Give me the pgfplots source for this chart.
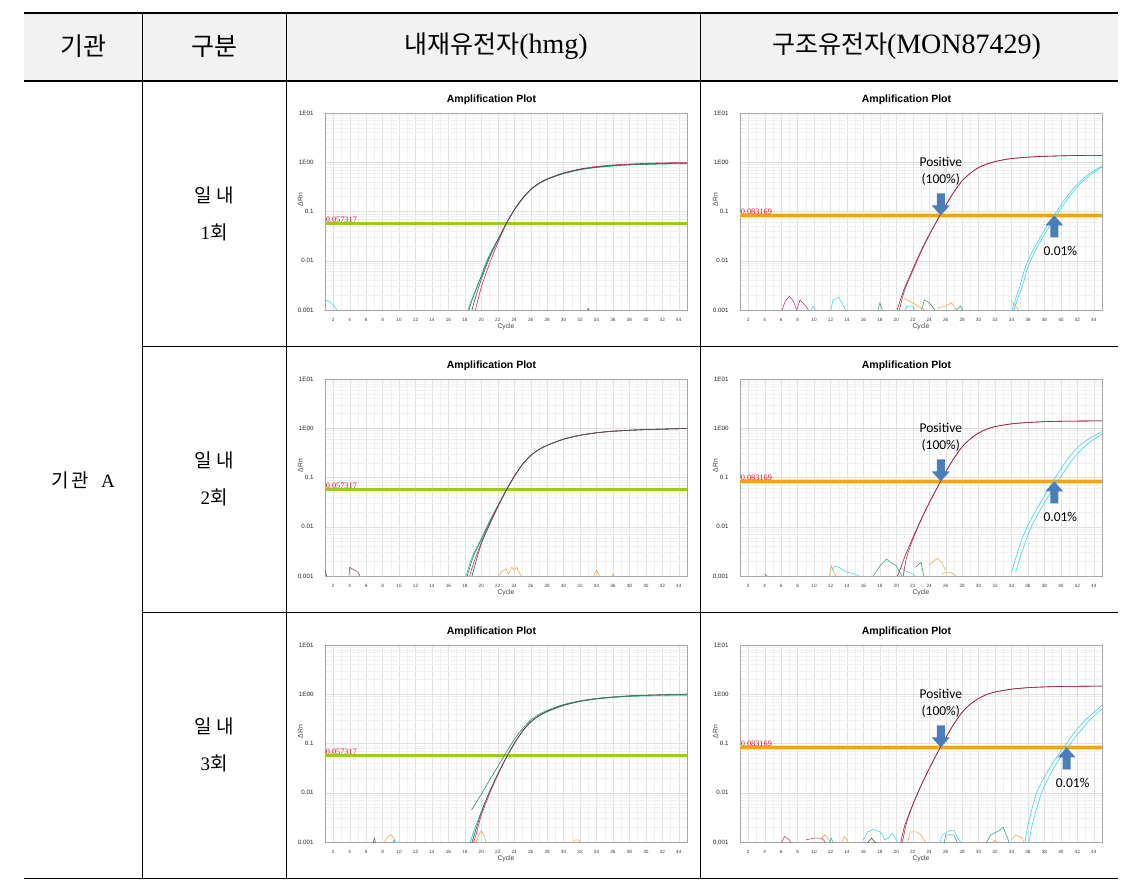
\documentclass[border=0pt]{standalone}
\usepackage{fontspec}
\setmainfont{Liberation Serif}
\newfontfamily\kr{Noto Sans CJK KR}
\newfontfamily\ar{Liberation Sans}
\newfontfamily\calib{Carlito}
\usepackage{pgfplots}
\pgfplotsset{compat=1.18}
\definecolor{tealc}{HTML}{17C3B2}
\definecolor{greenc}{HTML}{2E8B57}
\definecolor{greyc}{HTML}{4D4D4D}
\definecolor{redc}{HTML}{DC2A5A}
\definecolor{mred}{HTML}{9A2438}
\definecolor{mred2}{HTML}{B8344F}
\definecolor{cyanc}{HTML}{3FD3EC}
\definecolor{orangec}{HTML}{F4A24A}
\definecolor{purc}{HTML}{A0407A}
\definecolor{nred}{HTML}{C8385A}
\definecolor{ngreen}{HTML}{3A9A6A}
\definecolor{thrg}{HTML}{9CCB1E}
\definecolor{thro}{HTML}{F7A21B}
\definecolor{thry}{HTML}{FFE680}
\definecolor{arrowb}{HTML}{4A7EBB}
\definecolor{thrtext}{HTML}{E8102A}
\definecolor{hdrbg}{HTML}{F2F2F2}
\pgfplotsset{
  scale only axis, width=362pt, height=197pt,
  xmin=1, xmax=45, ymin=0.001, ymax=10,
  xtick={2,4,...,44}, minor xtick={1,3,...,45},
  ytick={0.001,0.01,0.1,1,10}, yticklabels={0.001,0.01,0.1,1E00,1E01},
  minor ytick={0.002,0.003,0.004,0.005,0.006,0.007,0.008,0.009,0.02,0.03,0.04,0.05,0.06,0.07,0.08,0.09,0.2,0.3,0.4,0.5,0.6,0.7,0.8,0.9,2,3,4,5,6,7,8,9},
  grid=both, major grid style={draw=black!12, line width=0.35pt}, minor grid style={draw=black!6, line width=0.35pt},
  axis line style={draw=black!35, line width=0.4pt},
  major tick length=0pt, minor tick length=0pt, tick pos=left,
  /pgf/number format/assume math mode=true,
  xticklabel style={font=\ar\fontsize{4.7}{5}\selectfont, text=black!75, yshift=-5pt},
  yticklabel style={font=\ar\fontsize{6.2}{7}\selectfont, text=black!85, xshift=-8pt},
  xlabel={Cycle}, ylabel={ΔRn},
  xlabel style={font=\ar\fontsize{6.8}{7}\selectfont, text=black!75, at={(axis description cs:0.5,-0.083)}, anchor=center},
  ylabel style={font=\ar\fontsize{6.8}{7}\selectfont, text=black!75, at={(axis description cs:-0.068,0.56)}, anchor=center},
  title={Amplification Plot},
  title style={font=\ar\bfseries\fontsize{10.5}{12}\selectfont, at={(axis description cs:0.46,1)}, anchor=base, yshift=4.5pt},
  every axis plot/.append style={line width=0.6pt, no markers, smooth, tension=0.45},
}
\tikzset{
  noisy/.style={line width=0.55pt, sharp plot},
  thrL/.style={thrg, line width=2.4pt, sharp plot},
  thrR/.style={thro, line width=2.4pt, sharp plot},
  thrY/.style={thry, line width=4.5pt, sharp plot},
}
\newcommand{\thrlabel}[1]{\node[anchor=south west, inner sep=0.6pt, text=thrtext, font=\fontsize{8.3}{9}\selectfont] at (axis cs:1,#1) {#1};}
\newcommand{\posarr}[1]{\fill[arrowb] (axis cs:#1,0.083169) -- ++(-9pt,10pt) -- ++(5pt,0pt) -- ++(0pt,12pt) -- ++(8pt,0pt) -- ++(0pt,-12pt) -- ++(5pt,0pt) -- cycle;
  \node[font=\calib\fontsize{13.5}{16.5}\selectfont, align=center] at (axis cs:#1,0.083169) [yshift=44pt] {Positive\\(100\%)};}
\newcommand{\lowarr}[1]{\fill[arrowb] (axis cs:#1,0.083169) -- ++(-9pt,-10pt) -- ++(5pt,0pt) -- ++(0pt,-12pt) -- ++(8pt,0pt) -- ++(0pt,12pt) -- ++(5pt,0pt) -- cycle;
  \node[font=\calib\fontsize{13.5}{16.5}\selectfont] at (axis cs:#1,0.083169) [xshift=6pt, yshift=-36pt] {0.01\%};}
\begin{document}
\begin{tikzpicture}[x=1pt,y=1pt]
\useasboundingbox (0,0) rectangle (1142,886);
\fill[white] (0,0) rectangle (1142,886);
\fill[hdrbg] (24,805) rectangle (1118,873);
% ---------- header text
\node[font=\kr\fontsize{25}{28}\selectfont] at (83,839.5) {기관};
\node[font=\kr\fontsize{25}{28}\selectfont] at (214,839.5) {구분};
\node[font=\fontsize{28}{30}\selectfont] at (496,839.5) {{\kr\fontsize{25}{28}\selectfont 내재유전자}(hmg)};
\node[font=\fontsize{28}{30}\selectfont] at (906.5,839.5) {{\kr\fontsize{25}{28}\selectfont 구조유전자}(MON87429)};
% ---------- row labels
\node[font=\fontsize{19}{37}\selectfont, align=center] at (214,672.5) {{\kr 일 내}\\1{\kr 회}};
\node[font=\fontsize{19}{37}\selectfont, align=center] at (214,407) {{\kr 일 내}\\2{\kr 회}};
\node[font=\fontsize{19}{37}\selectfont, align=center] at (214,141) {{\kr 일 내}\\3{\kr 회}};
\node[font=\fontsize{19}{22}\selectfont] at (83,406) {{\kr 기\hspace{3pt}관}\hspace{12pt}A};

% ================= Row 1 left
\begin{axis}[ymode=log, anchor=south west, at={(325pt,576pt)}]
\addplot[thrL] coordinates {(1,0.057317) (45,0.057317)};
\addplot[cyanc] coordinates {(1,0.0016) (1.5,0.0015) (2,0.00125) (2.5,0.00098)};
\addplot[tealc] coordinates {(18.3,0.0009) (18.6,0.0013) (19,0.0019) (19.5,0.0031) (20,0.005) (20.6,0.0095) (21,0.013) (22,0.0265) (23,0.055) (24,0.105) (25,0.18) (26,0.275) (27,0.365) (28,0.445) (29,0.52) (30,0.585) (32,0.7) (34,0.78) (36,0.84) (38,0.88) (40,0.9) (42,0.92) (44,0.93) (45,0.93)};
\addplot[greenc] coordinates {(18.4,0.0009) (19,0.0018) (20,0.0048) (21,0.0127) (22,0.027) (23,0.056) (24,0.107) (25,0.182) (26,0.278) (27,0.37) (28,0.45) (30,0.59) (32,0.71) (34,0.79) (36,0.85) (38,0.89) (40,0.91) (42,0.93) (44,0.94) (45,0.94)};
\addplot[redc] coordinates {(19.2,0.0009) (19.5,0.0014) (20,0.0029) (21,0.0088) (22,0.023) (23,0.054) (24,0.108) (25,0.186) (26,0.282) (27,0.375) (28,0.46) (30,0.61) (32,0.73) (34,0.82) (36,0.88) (38,0.92) (40,0.95) (42,0.97) (44,0.98) (45,0.98)};
\addplot[greyc] coordinates {(18.8,0.0009) (19.2,0.0016) (20,0.0042) (21,0.0115) (22,0.026) (23,0.056) (24,0.108) (25,0.185) (26,0.28) (27,0.372) (28,0.455) (30,0.6) (32,0.72) (34,0.8) (36,0.86) (38,0.9) (40,0.93) (42,0.95) (44,0.96) (45,0.96)};
\addplot[greyc, noisy] coordinates {(32.8,0.00095) (33,0.00106) (33.2,0.00095)};
\thrlabel{0.057317}
\end{axis}

% ================= Row 1 right
\begin{axis}[ymode=log, anchor=south west, at={(740pt,576pt)}]
\addplot[thrY] coordinates {(1,0.083169) (45,0.083169)};
\addplot[thrR] coordinates {(1,0.083169) (45,0.083169)};
\addplot[nred, noisy] coordinates {(6,0.0009) (6.5,0.0015) (7,0.0019) (7.5,0.0015) (8,0.0009)};
\addplot[nred, noisy] coordinates {(7.8,0.0009) (8.3,0.0016) (9,0.0012) (9.5,0.0009)};
\addplot[cyanc, noisy] coordinates {(9.5,0.0009) (9.9,0.0012) (10.3,0.0009)};
\addplot[cyanc, noisy] coordinates {(12,0.0009) (12.3,0.0016) (13,0.0018) (13.5,0.0013) (14,0.0009)};
\addplot[ngreen, noisy] coordinates {(17.7,0.0009) (18,0.0014) (18.4,0.0009)};
\addplot[orangec, noisy] coordinates {(21,0.0017) (22,0.0014) (23,0.0011) (24,0.0009)};
\addplot[tealc, noisy] coordinates {(21,0.0009) (21.3,0.0012) (22,0.0012) (22.3,0.0009)};
\addplot[ngreen, noisy] coordinates {(23,0.0009) (23.4,0.0016) (24,0.0014) (24.5,0.0011) (25,0.0009)};
\addplot[orangec, noisy] coordinates {(25,0.0011) (26,0.0012) (26.7,0.0014) (27,0.0012) (27.5,0.0009)};
\addplot[ngreen, noisy] coordinates {(27,0.0009) (27.8,0.0012) (28.2,0.0009)};
\addplot[orangec, noisy] coordinates {(34,0.0015) (34.5,0.0012) (35,0.0009)};
\addplot[mred2] coordinates {(20.3,0.0009) (21,0.0025) (22,0.0062) (23,0.015) (24,0.033) (25,0.067) (26,0.133) (27,0.248) (28,0.42) (29,0.6) (30,0.78) (31,0.92) (32,1.03) (33,1.12) (34,1.19) (36,1.27) (38,1.32) (40,1.35) (42,1.37) (44,1.38) (45,1.38)};
\addplot[mred] coordinates {(20,0.0009) (20.5,0.0016) (21,0.0028) (22,0.0068) (23,0.016) (24,0.034) (25,0.068) (26,0.135) (27,0.25) (28,0.42) (29,0.6) (30,0.78) (31,0.92) (32,1.03) (33,1.12) (34,1.19) (36,1.27) (38,1.32) (40,1.35) (42,1.37) (44,1.38) (45,1.38)};
\addplot[cyanc] coordinates {(34,0.0009) (34.5,0.0017) (35,0.003) (35.7,0.0075) (36.5,0.015) (37.5,0.03) (38.5,0.056) (39.2,0.085) (40,0.135) (41,0.23) (42,0.36) (43,0.51) (44,0.67) (45,0.83)};
\addplot[cyanc] coordinates {(34.2,0.0009) (34.8,0.0018) (35.3,0.003) (36,0.0075) (36.8,0.015) (37.8,0.03) (38.8,0.056) (39.5,0.085) (40.3,0.135) (41.3,0.23) (42.3,0.36) (43.3,0.51) (44.2,0.66) (45,0.8)};
\thrlabel{0.083169}
\posarr{25.4}
\lowarr{39.2}
\end{axis}

% ================= Row 2 left
\begin{axis}[ymode=log, anchor=south west, at={(325pt,310pt)}]
\addplot[thrL] coordinates {(1,0.057317) (45,0.057317)};
\addplot[greyc, noisy] coordinates {(1,0.0013) (1.3,0.0009)};
\addplot[purc, noisy] coordinates {(3.9,0.0009) (4,0.0015) (5,0.0012) (5.4,0.0009)};
\addplot[orangec, noisy] coordinates {(22,0.0009) (22.4,0.0012) (23,0.0014) (23.3,0.0011) (23.7,0.0015) (24,0.0013) (24.3,0.0015) (24.7,0.0011) (25,0.0009)};
\addplot[orangec, noisy] coordinates {(33.5,0.0009) (34,0.0013) (34.5,0.0009)};
\addplot[orangec, noisy] coordinates {(35.8,0.0009) (36,0.0011) (36.3,0.0009)};
\addplot[tealc] coordinates {(18.1,0.0009) (18.5,0.0016) (19,0.0027) (20,0.0058) (21,0.013) (22,0.027) (23,0.055) (24,0.105) (25,0.185) (26,0.28) (27,0.37) (28,0.45) (30,0.6) (32,0.72) (34,0.81) (36,0.87) (38,0.91) (40,0.94) (42,0.96) (44,0.98) (45,0.99)};
\addplot[greenc] coordinates {(18.2,0.0009) (19,0.0024) (20,0.0055) (21,0.0125) (22,0.0265) (23,0.055) (24,0.106) (25,0.185) (26,0.28) (27,0.37) (28,0.45) (30,0.6) (32,0.72) (34,0.81) (36,0.87) (38,0.91) (40,0.94) (42,0.96) (44,0.98) (45,0.99)};
\addplot[redc] coordinates {(18.5,0.0009) (19,0.0017) (20,0.0048) (21,0.0115) (22,0.026) (23,0.054) (24,0.105) (25,0.185) (26,0.28) (27,0.37) (28,0.45) (30,0.6) (32,0.72) (34,0.81) (36,0.87) (38,0.91) (40,0.94) (42,0.96) (44,0.98) (45,0.99)};
\addplot[greyc] coordinates {(18.8,0.0009) (19.2,0.0016) (20,0.0045) (21,0.011) (22,0.025) (23,0.053) (24,0.104) (25,0.184) (26,0.28) (27,0.37) (28,0.45) (30,0.6) (32,0.72) (34,0.81) (36,0.87) (38,0.91) (40,0.94) (42,0.96) (44,0.98) (45,0.99)};
\thrlabel{0.057317}
\end{axis}

% ================= Row 2 right
\begin{axis}[ymode=log, anchor=south west, at={(740pt,310pt)}]
\addplot[thrY] coordinates {(1,0.083169) (45,0.083169)};
\addplot[thrR] coordinates {(1,0.083169) (45,0.083169)};
\addplot[greyc, noisy] coordinates {(4,0.0011) (4.5,0.0009)};
\addplot[orangec, noisy] coordinates {(11.8,0.0009) (12.1,0.0016) (12.5,0.0011) (12.8,0.0009)};
\addplot[cyanc, noisy] coordinates {(12.2,0.0013) (12.5,0.0016) (13,0.0015) (14,0.0012) (15,0.0011) (16,0.0009)};
\addplot[ngreen, noisy] coordinates {(17,0.0009) (18,0.0016) (18.8,0.0022) (19.5,0.0018) (20,0.0016) (20.8,0.0009)};
\addplot[cyanc, noisy] coordinates {(20.5,0.0015) (21,0.0013) (22,0.0011) (22.5,0.0009)};
\addplot[ngreen, noisy] coordinates {(22.3,0.0015) (23,0.0019) (23.4,0.0009)};
\addplot[orangec, noisy] coordinates {(24,0.0017) (25,0.0023) (25.5,0.0019) (26,0.0013)};
\addplot[orangec, noisy] coordinates {(25.5,0.0011) (26,0.0012) (26.5,0.0012) (27,0.0011) (27.5,0.0009)};
\addplot[mred2] coordinates {(20.8,0.0009) (21.2,0.0022) (22,0.0055) (23,0.0135) (24,0.03) (25,0.063) (26,0.13) (27,0.245) (28,0.42) (29,0.61) (30,0.8) (31,0.96) (32,1.08) (34,1.23) (36,1.31) (38,1.36) (40,1.39) (42,1.4) (44,1.41) (45,1.41)};
\addplot[mred] coordinates {(20,0.0009) (20.5,0.0014) (21,0.0024) (22,0.006) (23,0.014) (24,0.031) (25,0.064) (26,0.13) (27,0.245) (28,0.42) (29,0.61) (30,0.8) (31,0.96) (32,1.08) (34,1.23) (36,1.31) (38,1.36) (40,1.39) (42,1.4) (44,1.41) (45,1.41)};
\addplot[cyanc] coordinates {(34,0.0012) (35,0.0042) (35.9,0.01) (37,0.022) (38,0.042) (39,0.083) (40,0.15) (41,0.26) (42,0.4) (43,0.55) (44,0.7) (45,0.86)};
\addplot[cyanc] coordinates {(34.5,0.0012) (35.5,0.004) (36.4,0.01) (37.5,0.022) (38.5,0.042) (39.6,0.083) (40.5,0.14) (41.5,0.24) (42.5,0.37) (43.5,0.52) (44.3,0.64) (45,0.76)};
\thrlabel{0.083169}
\posarr{25.4}
\lowarr{39.2}
\end{axis}

% ================= Row 3 left
\begin{axis}[ymode=log, anchor=south west, at={(325pt,44pt)}]
\addplot[thrL] coordinates {(1,0.057317) (45,0.057317)};
\addplot[purc, noisy] coordinates {(6.8,0.0009) (7,0.0012) (7.2,0.0009)};
\addplot[orangec, noisy] coordinates {(8,0.0009) (8.5,0.0012) (9,0.0014) (9.4,0.0012) (9.6,0.0009)};
\addplot[tealc, noisy] coordinates {(9.2,0.0009) (9.4,0.0011) (9.6,0.0009)};
\addplot[orangec, noisy] coordinates {(19.3,0.0009) (19.7,0.0014) (20,0.0017) (20.4,0.0013) (20.6,0.0009)};
\addplot[orangec, noisy] coordinates {(31,0.0009) (31.4,0.0011) (31.8,0.0011) (32.2,0.0009)};
\addplot[tealc] coordinates {(18.6,0.0009) (19,0.0015) (20,0.0042) (21,0.0105) (22,0.024) (23,0.05) (24,0.098) (25,0.175) (26,0.27) (27,0.36) (28,0.44) (30,0.59) (32,0.71) (34,0.8) (36,0.86) (38,0.9) (40,0.92) (42,0.93) (44,0.94) (45,0.94)};
\addplot[redc] coordinates {(19,0.0009) (19.4,0.0015) (20,0.0035) (21,0.0095) (22,0.023) (23,0.05) (24,0.1) (25,0.178) (26,0.275) (27,0.365) (28,0.45) (30,0.6) (32,0.73) (34,0.82) (36,0.88) (38,0.93) (40,0.96) (42,0.98) (44,1.0) (45,1.01)};
\addplot[greyc] coordinates {(18.8,0.0009) (19.2,0.0015) (20,0.004) (21,0.0105) (22,0.024) (23,0.051) (24,0.1) (25,0.178) (26,0.275) (27,0.365) (28,0.45) (30,0.6) (32,0.72) (34,0.81) (36,0.87) (38,0.92) (40,0.95) (42,0.97) (44,0.99) (45,1.0)};
\addplot[greenc] coordinates {(18.8,0.0045) (19,0.005) (20,0.0093) (21,0.018) (22,0.034) (23,0.065) (24,0.12) (25,0.2) (26,0.3) (27,0.39) (28,0.47) (30,0.62) (32,0.73) (34,0.82) (36,0.88) (38,0.92) (40,0.95) (42,0.97) (44,0.99) (45,1.0)};
\thrlabel{0.057317}
\end{axis}

% ================= Row 3 right
\begin{axis}[ymode=log, anchor=south west, at={(740pt,44pt)}]
\addplot[thrY] coordinates {(1,0.083169) (45,0.083169)};
\addplot[thrR] coordinates {(1,0.083169) (45,0.083169)};
\addplot[nred, noisy] coordinates {(6,0.0009) (6.4,0.0013) (7,0.0011) (7.3,0.0009)};
\addplot[nred, noisy] coordinates {(9,0.0011) (10,0.0012) (11,0.0012) (11.5,0.0009)};
\addplot[orangec, noisy] coordinates {(10.8,0.0011) (11.3,0.0014) (11.8,0.0011) (12.2,0.0009)};
\addplot[tealc, noisy] coordinates {(11.8,0.0009) (12.1,0.0012) (12.4,0.0009)};
\addplot[orangec, noisy] coordinates {(13.3,0.0009) (13.7,0.0013) (14.3,0.0009)};
\addplot[cyanc, noisy] coordinates {(16,0.0011) (16.5,0.0016) (17.2,0.0018) (18,0.0016) (18.3,0.0014) (18.6,0.0011) (19,0.0012) (19.5,0.0015) (20,0.0011) (20.3,0.0009)};
\addplot[greyc, noisy] coordinates {(16.3,0.0009) (17,0.0012) (17.6,0.0009)};
\addplot[orangec, noisy] coordinates {(21.3,0.0009) (21.7,0.0016) (22.5,0.0016) (23,0.0014) (23.7,0.0009)};
\addplot[cyanc, noisy] coordinates {(25.2,0.0009) (25.6,0.0014) (26.5,0.0017) (27,0.0017) (27.5,0.0012) (28,0.0009)};
\addplot[ngreen, noisy] coordinates {(25.8,0.0009) (26,0.0014) (27,0.0014) (27.5,0.0009)};
\addplot[ngreen, noisy] coordinates {(30.8,0.0009) (31.5,0.0014) (32.5,0.0017) (33,0.002) (33.8,0.0009)};
\addplot[orangec, noisy] coordinates {(31.5,0.0009) (32,0.0011) (32.5,0.0009)};
\addplot[orangec, noisy] coordinates {(34,0.0011) (34.5,0.0014) (35.3,0.0012) (35.6,0.0009)};
\addplot[mred2] coordinates {(20.7,0.0009) (21.2,0.0023) (22,0.0056) (23,0.0138) (24,0.031) (25,0.065) (26,0.13) (27,0.25) (28,0.43) (29,0.63) (30,0.82) (31,0.99) (32,1.11) (34,1.27) (36,1.36) (38,1.41) (40,1.44) (42,1.45) (44,1.46) (45,1.46)};
\addplot[mred] coordinates {(20.5,0.0009) (21,0.0021) (22,0.0058) (23,0.014) (24,0.031) (25,0.065) (26,0.13) (27,0.25) (28,0.43) (29,0.63) (30,0.82) (31,0.99) (32,1.11) (34,1.27) (36,1.36) (38,1.41) (40,1.44) (42,1.45) (44,1.46) (45,1.46)};
\addplot[cyanc] coordinates {(35.6,0.0009) (36,0.0022) (37,0.0095) (38,0.021) (39,0.04) (40,0.07) (40.4,0.085) (41,0.12) (42,0.2) (43,0.3) (44,0.43) (45,0.59)};
\addplot[cyanc] coordinates {(36.1,0.0009) (36.5,0.0022) (37.6,0.0095) (38.5,0.02) (39.5,0.04) (40.5,0.07) (40.9,0.085) (41.5,0.12) (42.5,0.19) (43.5,0.3) (44.3,0.4) (45,0.5)};
\thrlabel{0.083169}
\posarr{25.4}
\lowarr{40.7}
\end{axis}

% ---------- table rules
\draw[line width=1.3pt] (24,873) -- (1118,873);
\draw[line width=1.3pt] (24,805) -- (1118,805);
\draw[line width=0.8pt] (142,539.5) -- (1118,539.5);
\draw[line width=0.8pt] (142,274) -- (1118,274);
\draw[line width=1.1pt] (24,7.5) -- (1118,7.5);
\foreach \xx in {142,286,700} \draw[line width=0.8pt] (\xx,873) -- (\xx,7.5);
\end{tikzpicture}
\end{document}
